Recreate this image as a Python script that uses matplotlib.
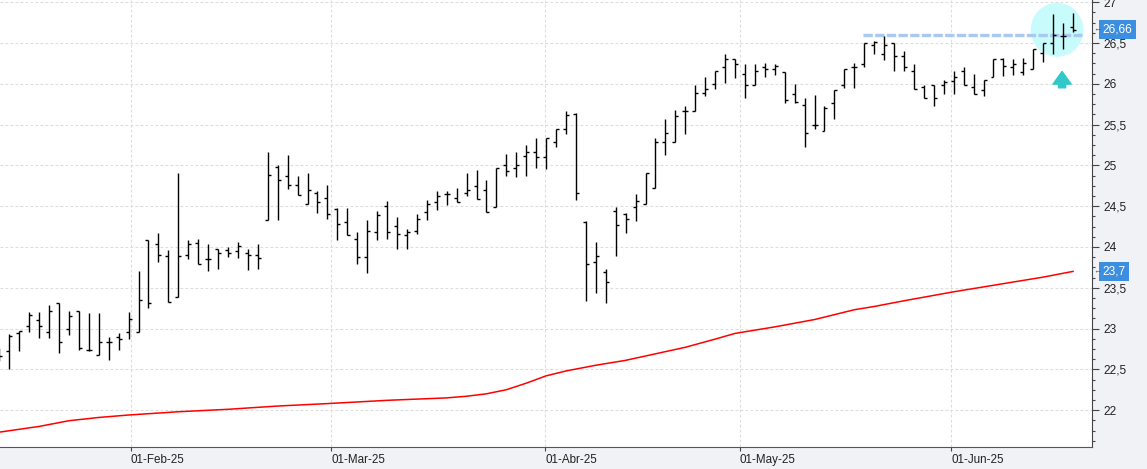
import matplotlib
matplotlib.use('Agg')
import matplotlib.pyplot as plt
from matplotlib.patches import Ellipse
from matplotlib.ticker import MultipleLocator, FuncFormatter
from matplotlib.transforms import blended_transform_factory
import numpy as np

# daily OHLC bars (one per trading session, mid Jan -> mid Jun 2025)
opens = [22.70, 22.72, 22.95, 23.03, 23.10, 22.96, 23.31, 23.00, 23.22, 22.74,
         22.68, 22.83, 22.90, 22.96, 22.96, 24.08, 24.04, 23.89, 23.39, 23.90,
         24.05, 23.85, 23.97, 23.96, 23.95, 23.92, 23.90, 24.33, 24.98, 24.87,
         24.76, 24.52, 24.66, 24.60, 24.47, 24.31, 24.10, 23.88, 24.18, 24.50,
         24.26, 24.14, 24.20, 24.43, 24.55, 24.65, 24.60, 24.66, 24.75, 24.70,
         24.49, 25.00, 24.97, 25.12, 25.16, 25.10, 25.28, 25.44, 25.63, 24.30,
         23.82, 23.69, 24.44, 24.40, 24.49, 24.52, 24.72, 25.28, 25.29, 25.66,
         25.67, 25.89, 26.00, 26.21, 26.30, 26.12, 25.98, 26.20, 26.18, 26.14,
         25.88, 25.74, 25.50, 25.42, 25.76, 25.98, 26.20, 26.24, 26.48, 26.37,
         26.50, 26.34, 26.15, 25.96, 25.98, 25.98, 26.03, 26.16, 25.96, 25.92,
         26.08, 26.30, 26.20, 26.14, 26.18, 26.38, 26.50, 26.58, 26.69]
highs = [22.76, 22.93, 22.97, 23.20, 23.20, 23.29, 23.31, 23.22, 23.22, 23.19,
         23.19, 22.90, 22.94, 23.20, 23.70, 24.08, 24.17, 23.96, 24.90, 24.08,
         24.10, 24.04, 23.98, 24.00, 24.06, 23.98, 24.04, 25.16, 25.00, 25.13,
         24.87, 24.90, 24.68, 24.76, 24.48, 24.48, 24.18, 24.33, 24.44, 24.56,
         24.37, 24.22, 24.40, 24.58, 24.69, 24.68, 24.72, 24.90, 24.94, 24.82,
         24.97, 25.14, 25.16, 25.25, 25.34, 25.34, 25.45, 25.67, 25.64, 24.32,
         24.06, 23.73, 24.49, 24.42, 24.65, 24.90, 25.34, 25.57, 25.68, 25.73,
         25.98, 26.08, 26.16, 26.36, 26.30, 26.24, 26.24, 26.26, 26.24, 26.14,
         26.00, 25.83, 25.86, 25.73, 25.92, 26.18, 26.26, 26.50, 26.52, 26.58,
         26.50, 26.40, 26.24, 25.99, 25.98, 26.05, 26.15, 26.21, 26.12, 26.05,
         26.30, 26.31, 26.30, 26.31, 26.42, 26.50, 26.85, 26.75, 26.87]
lows = [22.60, 22.50, 22.72, 22.96, 22.88, 22.88, 22.70, 22.92, 22.74, 22.72,
        22.68, 22.61, 22.74, 22.87, 22.96, 23.25, 23.82, 23.32, 23.39, 23.85,
        23.79, 23.70, 23.73, 23.88, 23.86, 23.72, 23.73, 24.33, 24.33, 24.71,
        24.64, 24.52, 24.42, 24.34, 24.08, 24.14, 23.79, 23.68, 24.08, 24.10,
        23.97, 23.97, 24.16, 24.33, 24.45, 24.51, 24.55, 24.62, 24.59, 24.43,
        24.49, 24.87, 24.86, 24.87, 24.97, 24.96, 25.22, 25.38, 24.58, 23.34,
        23.44, 23.31, 23.89, 24.17, 24.32, 24.52, 24.72, 25.13, 25.29, 25.38,
        25.67, 25.85, 25.93, 26.01, 26.07, 25.83, 25.98, 26.08, 26.11, 25.76,
        25.76, 25.22, 25.45, 25.42, 25.57, 25.95, 25.95, 26.21, 26.36, 26.29,
        26.15, 26.15, 25.93, 25.82, 25.73, 25.88, 25.87, 25.98, 25.88, 25.85,
        26.08, 26.10, 26.11, 26.11, 26.18, 26.27, 26.37, 26.43, 26.63]
closes = [22.66, 22.91, 22.97, 23.17, 23.03, 23.22, 22.83, 23.15, 22.76, 22.74,
          22.83, 22.84, 22.87, 23.12, 23.35, 23.31, 23.90, 23.32, 23.89, 24.04,
          23.79, 23.85, 23.92, 23.92, 24.01, 23.90, 23.86, 24.88, 24.82, 24.76,
          24.64, 24.70, 24.55, 24.40, 24.28, 24.15, 23.88, 24.20, 24.39, 24.18,
          24.16, 24.18, 24.34, 24.52, 24.62, 24.65, 24.55, 24.70, 24.59, 24.43,
          24.97, 24.93, 25.00, 25.16, 25.10, 25.34, 25.44, 25.62, 24.66, 23.79,
          23.89, 23.57, 24.27, 24.34, 24.56, 24.90, 25.28, 25.40, 25.60, 25.66,
          25.89, 25.93, 26.16, 26.30, 26.24, 25.98, 26.16, 26.18, 26.22, 25.80,
          25.77, 25.40, 25.50, 25.70, 25.92, 26.18, 26.21, 26.50, 26.51, 26.47,
          26.34, 26.21, 25.93, 25.83, 25.83, 26.02, 26.08, 25.98, 25.88, 26.05,
          26.30, 26.22, 26.24, 26.25, 26.42, 26.50, 26.60, 26.58, 26.66]

# moving average (red line), read at some bar positions
ma_idx = [0, 4, 7, 10, 13, 18, 23, 28, 33, 39, 45, 47, 49, 51, 53, 55, 57, 60,
          63, 66, 69, 72, 74, 78, 82, 84, 86, 88, 91, 96, 101, 105, 108]
ma_val = [21.73, 21.80, 21.87, 21.91, 21.94, 21.98, 22.01, 22.05, 22.08, 22.12,
          22.15, 22.17, 22.20, 22.25, 22.33, 22.42, 22.48, 22.55, 22.61, 22.69,
          22.77, 22.87, 22.94, 23.02, 23.11, 23.17, 23.23, 23.27, 23.34, 23.45,
          23.55, 23.63, 23.70]

month_pos = [13.24, 33.36, 54.89, 74.5, 95.73]
month_labels = ['01-Feb-25', '01-Mar-25', '01-Abr-25', '01-May-25', '01-Jun-25']

resistance = 26.60
resistance_start = 86.9

plt.rcParams['font.family'] = ['Liberation Sans', 'DejaVu Sans']

x = np.arange(len(closes))

fig = plt.figure(figsize=(11.47, 4.69), dpi=100, facecolor='#f1f2f5')
ax = fig.add_axes([0, 22 / 469, 1092 / 1147, 447 / 469])
ax.set_facecolor('white')
ax.set_axisbelow(True)

# OHLC bars
ax.vlines(x, lows, highs, color='black', lw=1.0, zorder=4)
ax.hlines(opens, x - 0.3, x, color='black', lw=1.0, zorder=4)
ax.hlines(closes, x, x + 0.3, color='black', lw=1.0, zorder=4)

ax.plot(ma_idx, ma_val, color='red', lw=1.1, zorder=3)

# highlight of last sessions
last = len(closes) - 1
ax.add_patch(Ellipse((last - 1.6, closes[-1]), 5.3, 0.66, color='#c8fbfb', lw=0, zorder=1))
ax.hlines(resistance, resistance_start, last + 0.9, color='#a9c9f0', lw=2.4,
          linestyle=(0, (2.8, 0.7)), zorder=2)
ax.annotate('', xy=(last - 1.1, 26.15), xytext=(last - 1.1, 25.95),
            arrowprops=dict(arrowstyle='simple,head_length=0.7,head_width=1.0,tail_width=0.4',
                            color='#30c8c8', shrinkA=0, shrinkB=0, mutation_scale=13),
            zorder=5)

ax.set_xlim(0.064, 109.91)
ax.set_ylim(21.548, 27.026)

for s in ['top', 'left']:
    ax.spines[s].set_visible(False)
ax.spines['bottom'].set_color('#555555')
ax.spines['right'].set_color('#444444')

ax.yaxis.tick_right()
ax.yaxis.set_major_locator(MultipleLocator(0.5))
ax.yaxis.set_minor_locator(MultipleLocator(0.125))
ax.yaxis.set_major_formatter(FuncFormatter(lambda v, p: ('%g' % v).replace('.', ',')))
ax.tick_params(axis='y', which='major', length=5, width=0.8, color='#444444', pad=3,
               labelsize=8.6, labelcolor='#222222')
ax.tick_params(axis='y', which='minor', length=2.5, width=0.8, color='#444444')

ax.set_xticks(month_pos)
ax.set_xticklabels(month_labels, ha='left')
ax.tick_params(axis='x', length=3, width=0.8, color='#444444', pad=2,
               labelsize=8.4, labelcolor='#222222')

ax.grid(True, which='major', color='#dcdcdc', lw=0.8, linestyle=(0, (2.5, 2)))

# last value boxes on the price axis
trans = blended_transform_factory(ax.transAxes, ax.transData)
for val in [closes[-1], ma_val[-1]]:
    txt = ('%g' % round(val, 2)).replace('.', ',')
    ax.text(1.0095, val, txt, transform=trans, ha='left', va='center', fontsize=8.6,
            color='white', clip_on=False, zorder=6,
            bbox=dict(boxstyle='square,pad=0.3', fc='#3b8ee0', ec='none'))
    ax.text(1.0008, val, '\u2190', transform=trans, ha='left', va='center', fontsize=6,
            color='#555555', clip_on=False, zorder=6)

fig.savefig('out.png', dpi=100, facecolor=fig.get_facecolor())
